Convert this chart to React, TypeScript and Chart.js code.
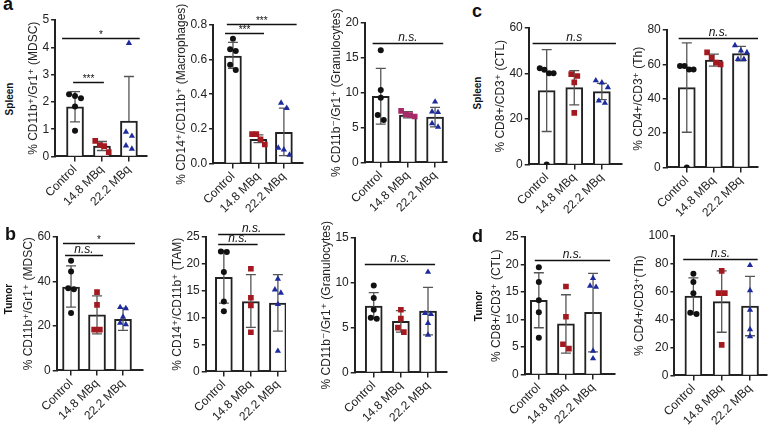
import React, { useEffect, useRef } from 'react';
import { Chart, registerables } from 'chart.js';

Chart.register(...registerables);

const FONT = "'Liberation Sans', Arial, 'DejaVu Sans', sans-serif";
const groups = ['Control', '14.8 MBq', '22.2 MBq'];

// ---- a1: Spleen MDSC ----
const a1Mean = [1.82, 0.38, 1.3];
const a1Lo = [1.27, 0.22, null];
const a1Hi = [2.38, 0.55, 2.93];
const a1Control = [2.28, 2.22, 2.13, 1.83, 0.94];
const a1Dose148 = [0.57, 0.42, 0.38, 0.16];
const a1Dose222 = [4.15, 0.9, 0.75, 0.4, 0.28];
const a1Sig = [{ from: -0.07, to: 1.07, y: 2.74, label: '***' }, { from: -0.48, to: 2.4, y: 4.35, label: '*' }];

// ---- a2: Spleen Macrophages ----
const a2Mean = [0.62, 0.14, 0.18];
const a2Lo = [0.55, 0.12, 0.045];
const a2Hi = [0.7, 0.165, 0.32];
const a2Control = [0.72, 0.66, 0.65, 0.57, 0.54];
const a2Dose148 = [0.17, 0.17, 0.14, 0.11];
const a2Dose222 = [0.35, 0.32, 0.09, 0.08, 0.05];
const a2Sig = [{ from: -0.31, to: 1.22, y: 0.755, label: '***' }, { from: -0.24, to: 2.5, y: 0.806, label: '***' }];

// ---- a3: Spleen Granulocytes ----
const a3Mean = [9.5, 6.8, 6.5];
const a3Lo = [5.5, 6.4, 5.1];
const a3Hi = [13.5, 7.3, 7.9];
const a3Control = [16.1, 10.4, 9.3, 6.8, 6.1];
const a3Dose148 = [7.4, 6.9, 6.8, 6.6];
const a3Dose222 = [8.7, 7.3, 7.2, 5.6, 5.1];
const a3Sig = [{ from: -0.3, to: 2.3, y: 17.2, label: 'n.s.' }];

// ---- c1: Spleen CTL ----
const c1Mean = [32.5, 33.8, 32.0];
const c1Lo = [14.5, 26.2, 28.5];
const c1Hi = [50.5, 41.3, 35.7];
const c1Control = [42.3, 41.6, 40.1, 40.1, 0];
const c1Dose148 = [39.7, 38.9, 36.1, 22.7];
const c1Dose222 = [36.9, 36.0, 33.9, 28.0, 27.0];
const c1Sig = [{ from: -0.51, to: 2.51, y: 53.3, label: 'n.s' }];

// ---- c2: Spleen Th ----
const c2Mean = [46.5, 62.5, 66.3];
const c2Lo = [20.5, 59, 62];
const c2Hi = [72.5, 66, 70.5];
const c2Control = [59, 59, 57, 57, 0];
const c2Dose148 = [67, 64, 61, 60];
const c2Dose222 = [71, 68, 67, 63, 63];
const c2Sig = [{ from: -0.3, to: 2.63, y: 75.2, label: 'n.s.' }];

// ---- b1: Tumor MDSC ----
const b1Mean = [37.5, 25.0, 23.0];
const b1Lo = [28.5, 16.5, 18];
const b1Hi = [47, 33.5, 28];
const b1Control = [49.3, 44.5, 37.0, 36.5, 25.8];
const b1Dose148 = [35.2, 29.5, 18.4, 18.4];
const b1Dose222 = [28.4, 27.9, 24.1, 21.4, 20.7];
const b1Sig = [{ from: -0.23, to: 1.23, y: 51.9, label: 'n.s.' }, { from: -0.31, to: 2.46, y: 57.2, label: '*' }];

// ---- b2: Tumor TAM ----
const b2Mean = [17.5, 13.0, 12.7];
const b2Lo = [12.7, 8.2, 7.5];
const b2Hi = [22.5, 18.0, 18.0];
const b2Control = [22.3, 22.2, 18.5, 13.0, 11.2];
const b2Dose148 = [19.1, 13.7, 12.3, 7.3];
const b2Dose222 = [17.2, 15.2, 14.6, 12.5, 3.8];
const b2Sig = [{ from: -0.21, to: 1.25, y: 23.7, label: 'n.s.' }, { from: -0.21, to: 2.26, y: 25.5, label: 'n.s.' }];

// ---- b3: Tumor Granulocytes ----
const b3Mean = [7.4, 5.7, 6.85];
const b3Lo = [6.0, 4.5, 4.2];
const b3Hi = [8.9, 6.9, 9.5];
const b3Control = [9.7, 8.3, 7.0, 6.1, 6.0];
const b3Dose148 = [7.0, 6.0, 5.0, 4.5];
const b3Dose222 = [11.2, 6.6, 6.5, 5.5, 4.2];
const b3Sig = [{ from: -0.33, to: 2.26, y: 12.1, label: 'n.s.' }];

// ---- d1: Tumor CTL ----
const d1Mean = [13.5, 9.2, 11.3];
const d1Lo = [8.5, 3.9, 4.1];
const d1Hi = [18.5, 14.5, 18.4];
const d1Control = [19.5, 16.8, 13.5, 11.3, 6.7];
const d1Dose148 = [16.0, 10.5, 5.5, 4.7];
const d1Dose222 = [17.5, 16.1, 15.9, 4.3, 2.9];
const d1Sig = [{ from: -0.15, to: 2.63, y: 20.9, label: 'n.s.' }];

// ---- d2: Tumor Th ----
const d2Mean = [57, 53, 49.7];
const d2Lo = [44, 31, 28.5];
const d2Hi = [70, 75, 71];
const d2Control = [73, 67, 59, 45, 44];
const d2Dose148 = [75, 59, 59, 22];
const d2Dose222 = [79, 61, 47, 33, 28];
const d2Sig = [{ from: -0.36, to: 2.27, y: 83.2, label: 'n.s.' }];

const RED = '#a3191f';
const MAGENTA = '#a62a68';
const BLUE = '#1d2b9c';

type Panel = {
  title: string; mean: number[]; lo: (number | null)[]; hi: number[];
  pts: number[][]; sig: { from: number; to: number; y: number; label: string }[];
  ymax: number; step: number; dec: number;
  x0: number; x1: number; y0: number; y1: number; xmin: number; xmax: number; red?: string;
};

const panels: Panel[] = [
  { title: '% CD11b\u207A/Gr1\u207A (MDSC)', mean: a1Mean, lo: a1Lo, hi: a1Hi, pts: [a1Control, a1Dose148, a1Dose222], sig: a1Sig, ymax: 5, step: 1, dec: 0, x0: 55, x1: 147, y0: 20, y1: 156, xmin: -0.74, xmax: 2.67 },
  { title: '% CD14\u207A/CD11b\u207A (Macrophages)', mean: a2Mean, lo: a2Lo, hi: a2Hi, pts: [a2Control, a2Dose148, a2Dose222], sig: a2Sig, ymax: 0.8, step: 0.2, dec: 1, x0: 213, x1: 303, y0: 25, y1: 163, xmin: -0.78, xmax: 2.75 },
  { title: '% CD11b\u207B/Gr1\u207A (Granulocytes)', mean: a3Mean, lo: a3Lo, hi: a3Hi, pts: [a3Control, a3Dose148, a3Dose222], sig: a3Sig, ymax: 20, step: 5, dec: 0, x0: 365, x1: 447, y0: 23, y1: 162, xmin: -0.59, xmax: 2.44, red: MAGENTA },
  { title: '% CD8+/CD3\u207A (CTL)', mean: c1Mean, lo: c1Lo, hi: c1Hi, pts: [c1Control, c1Dose148, c1Dose222], sig: c1Sig, ymax: 60, step: 20, dec: 0, x0: 529, x1: 622, y0: 28, y1: 164, xmin: -0.65, xmax: 2.73 },
  { title: '% CD4+/CD3\u207A (Th)', mean: c2Mean, lo: c2Lo, hi: c2Hi, pts: [c2Control, c2Dose148, c2Dose222], sig: c2Sig, ymax: 80, step: 20, dec: 0, x0: 667, x1: 758, y0: 30, y1: 167, xmin: -0.74, xmax: 2.63 },
  { title: '% CD11b\u207A/Gr1\u207A (MDSC)', mean: b1Mean, lo: b1Lo, hi: b1Hi, pts: [b1Control, b1Dose148, b1Dose222], sig: b1Sig, ymax: 60, step: 20, dec: 0, x0: 57, x1: 143, y0: 237, y1: 370, xmin: -0.55, xmax: 2.77 },
  { title: '% CD14\u207A/CD11b\u207A (TAM)', mean: b2Mean, lo: b2Lo, hi: b2Hi, pts: [b2Control, b2Dose148, b2Dose222], sig: b2Sig, ymax: 25, step: 5, dec: 0, x0: 206, x1: 286, y0: 237, y1: 371, xmin: -0.67, xmax: 2.3 },
  { title: '% CD11b\u207B/Gr1\u207A (Granulocytes)', mean: b3Mean, lo: b3Lo, hi: b3Hi, pts: [b3Control, b3Dose148, b3Dose222], sig: b3Sig, ymax: 15, step: 5, dec: 0, x0: 355, x1: 447, y0: 238, y1: 372, xmin: -0.7, xmax: 2.7 },
  { title: '% CD8+/CD3\u207A (CTL)', mean: d1Mean, lo: d1Lo, hi: d1Hi, pts: [d1Control, d1Dose148, d1Dose222], sig: d1Sig, ymax: 25, step: 5, dec: 0, x0: 525, x1: 615, y0: 237, y1: 374, xmin: -0.52, xmax: 2.81 },
  { title: '% CD4+/CD3\u207A(Th)', mean: d2Mean, lo: d2Lo, hi: d2Hi, pts: [d2Control, d2Dose148, d2Dose222], sig: d2Sig, ymax: 100, step: 20, dec: 0, x0: 674, x1: 767, y0: 236, y1: 375, xmin: -0.67, xmax: 2.6 },
];

function jitter(vals: number[], span: number): number[] {
  const idx = vals.map((_, i) => i).sort((a, b) => vals[b] - vals[a]);
  const off = new Array(vals.length).fill(0);
  let cluster: number[] = [];
  const flush = () => {
    const k = cluster.length;
    const s = k > 1 ? Math.min(0.22, 0.5 / (k - 1)) : 0;
    cluster.forEach((id, j) => { off[id] = (j - (k - 1) / 2) * s; });
    cluster = [];
  };
  idx.forEach((id) => {
    if (cluster.length && vals[cluster[cluster.length - 1]] - vals[id] > span * 0.045) flush();
    cluster.push(id);
  });
  flush();
  return off;
}

const overlayPlugin = {
  id: 'overlay',
  afterDatasetDraw(chart: any, args: any, opts: any) {
    if (args.meta.type !== 'bar') return;
    const p: Panel = opts.panel;
    const xs = chart.scales.x, ys = chart.scales.y;
    const ctx = chart.ctx;
    ctx.save();
    ctx.strokeStyle = '#555';
    ctx.lineWidth = 1.3;
    p.mean.forEach((m, i) => {
      const px = xs.getPixelForValue(i);
      const top = ys.getPixelForValue(p.hi[i]);
      const lo = p.lo[i];
      const bot = ys.getPixelForValue(lo == null ? m : lo);
      ctx.beginPath();
      ctx.moveTo(px, top); ctx.lineTo(px, bot);
      ctx.moveTo(px - 5, top); ctx.lineTo(px + 5, top);
      if (lo != null) { ctx.moveTo(px - 5, bot); ctx.lineTo(px + 5, bot); }
      ctx.stroke();
    });
    ctx.restore();
  },
  afterDraw(chart: any, _args: any, opts: any) {
    const p: Panel = opts.panel;
    const xs = chart.scales.x, ys = chart.scales.y;
    const ctx = chart.ctx;
    ctx.save();
    ctx.strokeStyle = '#111';
    ctx.fillStyle = '#111';
    ctx.lineWidth = 1.5;
    p.sig.forEach((s) => {
      const a = xs.getPixelForValue(s.from), b = xs.getPixelForValue(s.to);
      const y = Math.round(ys.getPixelForValue(s.y)) + 0.5;
      ctx.beginPath(); ctx.moveTo(a, y); ctx.lineTo(b, y); ctx.stroke();
      const italic = s.label.startsWith('n');
      ctx.font = (italic ? 'italic ' : '') + (s.label.startsWith('*') ? '10px ' : '12px ') + FONT;
      ctx.textAlign = 'center';
      ctx.textBaseline = 'alphabetic';
      ctx.fillText(s.label, (a + b) / 2, y - (s.label.startsWith('*') ? 1 : 3));
    });
    ctx.restore();
  },
};

function makeConfig(p: Panel): any {
  const styles = ['circle', 'rect', 'triangle'];
  const colors = ['#111', p.red || RED, BLUE];
  const radii = [3, 4, 3.6];
  const scatter = p.pts.map((vals, g) => {
    const off = jitter(vals, p.ymax);
    return {
      type: 'scatter', order: 1,
      data: vals.map((v, i) => ({ x: g + off[i], y: v })),
      pointStyle: styles[g], pointRadius: radii[g], pointBackgroundColor: colors[g],
      pointBorderColor: colors[g], pointBorderWidth: 0, showLine: false,
    };
  });
  return {
    type: 'bar',
    data: {
      datasets: [
        {
          type: 'bar', order: 2,
          data: p.mean.map((m, i) => ({ x: i, y: m })),
          backgroundColor: '#ffffff', borderColor: '#222', borderWidth: 2, barThickness: 17,
        },
        ...scatter,
      ],
    },
    options: {
      animation: false, responsive: false, maintainAspectRatio: false, events: [],
      layout: { padding: { top: 30, right: 4, left: 4, bottom: 2 } },
      plugins: { legend: { display: false }, tooltip: { enabled: false }, overlay: { panel: p } },
      scales: {
        x: {
          type: 'linear', min: p.xmin, max: p.xmax, offset: false,
          afterBuildTicks: (s: any) => { s.ticks = groups.map((_, i) => ({ value: i })); },
          ticks: {
            callback: (v: number) => groups[Math.round(v)] ?? '',
            minRotation: 45, maxRotation: 45, autoSkip: false,
            font: { family: FONT, size: 12 }, color: '#222', padding: 1,
          },
          grid: { offset: false, drawOnChartArea: false, drawTicks: true, tickLength: 5, color: '#222', lineWidth: 1.5 },
          border: { display: true, color: '#222', width: 2 },
        },
        y: {
          type: 'linear', min: 0, max: p.ymax,
          ticks: {
            stepSize: p.step, autoSkip: false,
            callback: (v: number) => v.toFixed(p.dec),
            font: { family: FONT, size: 12 }, color: '#222', padding: 2,
          },
          grid: { drawOnChartArea: false, drawTicks: true, tickLength: 4, color: '#222', lineWidth: 1.5 },
          border: { display: true, color: '#222', width: 2 },
          title: { display: true, text: p.title, font: { family: FONT, size: 12 }, color: '#222', padding: { top: 0, bottom: 0 } },
        },
      },
    },
    plugins: [overlayPlugin],
  };
}

const textBase: React.CSSProperties = { position: 'absolute', fontFamily: FONT, color: '#111', whiteSpace: 'nowrap' };

function Letter({ x, y, t }: { x: number; y: number; t: string }) {
  return <div style={{ ...textBase, left: x, top: y, fontSize: 18, lineHeight: '18px', fontWeight: 'bold' }}>{t}</div>;
}
function RowLabel({ cx, cy, t }: { cx: number; cy: number; t: string }) {
  return (
    <div style={{ ...textBase, left: cx, top: cy, fontSize: 10, lineHeight: '12px', fontWeight: 'bold', transform: 'translate(-50%, -50%) rotate(-90deg)' }}>{t}</div>
  );
}

export default function App() {
  const refs = useRef<(HTMLCanvasElement | null)[]>([]);
  useEffect(() => {
    const charts: Chart[] = [];
    panels.forEach((p, i) => {
      const canvas = refs.current[i];
      if (!canvas) return;
      const W0 = 220, H0 = 280;
      canvas.width = W0; canvas.height = H0;
      const chart = new Chart(canvas, makeConfig(p));
      let ca = chart.chartArea;
      const W = Math.round(W0 + (p.x1 - p.x0) - (ca.right - ca.left));
      const H = Math.round(H0 + (p.y1 - p.y0) - (ca.bottom - ca.top));
      chart.resize(W, H);
      ca = chart.chartArea;
      canvas.style.left = (p.x0 - ca.left) + 'px';
      canvas.style.top = (p.y0 - ca.top) + 'px';
      charts.push(chart);
    });
    return () => charts.forEach((c) => c.destroy());
  }, []);
  return (
    <div style={{ position: 'fixed', left: 0, top: 0, width: 770, height: 426, background: '#fff', overflow: 'hidden' }}>
      {panels.map((_, i) => (
        <canvas key={i} ref={(el) => { refs.current[i] = el; }} style={{ position: 'absolute', left: 0, top: 0 }} />
      ))}
      <Letter x={3} y={-5} t="a" />
      <Letter x={5} y={225} t="b" />
      <Letter x={472} y={2} t="c" />
      <Letter x={472} y={227} t="d" />
      <RowLabel cx={10} cy={99} t="Spleen" />
      <RowLabel cx={9} cy={299} t="Tumor" />
      <RowLabel cx={478} cy={93} t="Spleen" />
      <RowLabel cx={479} cy={306} t="Tumor" />
    </div>
  );
}
